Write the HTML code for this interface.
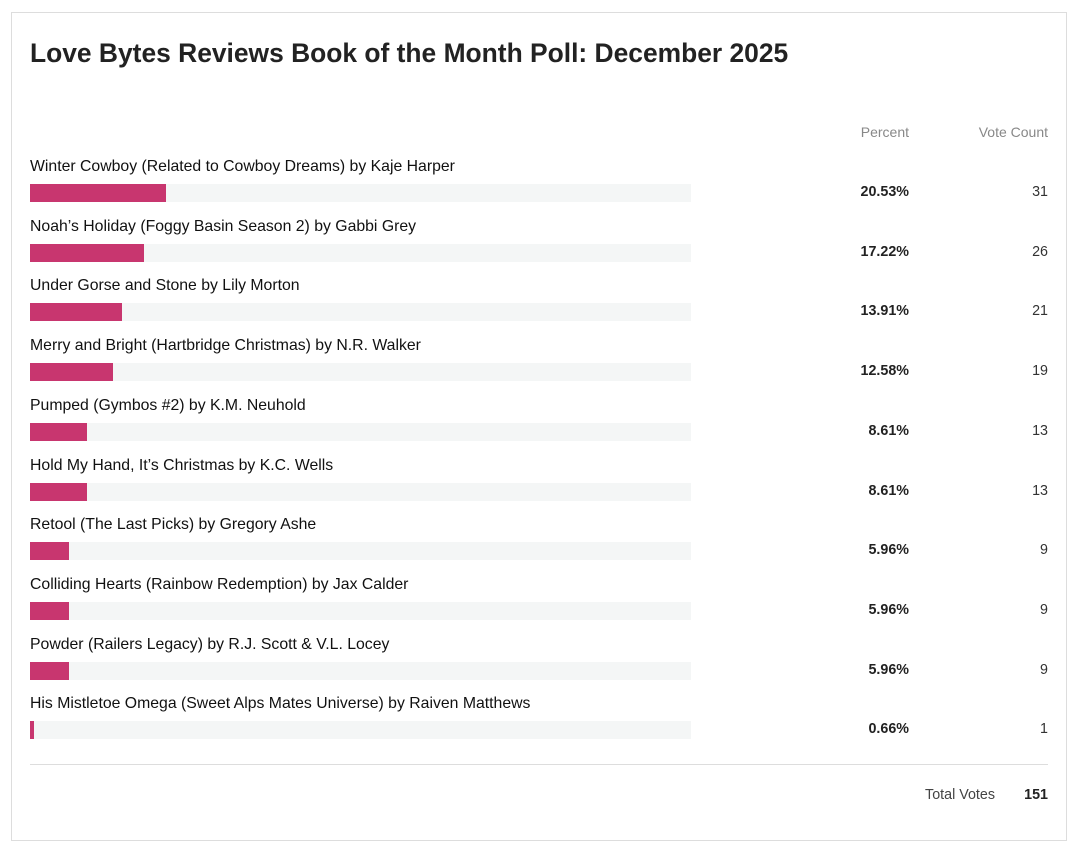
<!DOCTYPE html>
<html><head><meta charset="utf-8"><style>
body{margin:0;background:#fff;font-family:"Liberation Sans",sans-serif;}
.box{position:absolute;left:11px;top:12px;width:1054px;height:827px;border:1px solid #ddd;}
.t{position:absolute;left:30px;top:38px;font-size:26.4px;font-weight:bold;color:#222;}
.h{position:absolute;top:124px;font-size:14px;color:#888;}
.l{position:absolute;left:30px;font-size:15.8px;color:#111;}
.tr{position:absolute;left:30px;width:661px;height:18px;background:#f4f6f6;}
.b{height:18px;background:#c8366f;}
.p{position:absolute;right:170px;font-size:14.3px;font-weight:bold;color:#222;}
.c{position:absolute;right:31px;font-size:14.3px;color:#333;}
</style></head><body>
<div class="box"></div>
<div class="t">Love Bytes Reviews Book of the Month Poll: December 2025</div>
<div class="h" style="right:170px">Percent</div>
<div class="h" style="right:31px">Vote Count</div>
<div id="rows"></div>
<div style="position:absolute;left:30px;top:764px;width:1018px;height:1px;background:#ddd"></div>
<div style="position:absolute;right:84px;top:787px;font-size:14.3px;color:#444">Total Votes</div>
<div style="position:absolute;right:31px;top:787px;font-size:14.3px;font-weight:bold;color:#222">151</div>
<script>
var d=[["Winter Cowboy (Related to Cowboy Dreams) by Kaje Harper",20.53,31],
["Noah’s Holiday (Foggy Basin Season 2) by Gabbi Grey",17.22,26],
["Under Gorse and Stone by Lily Morton",13.91,21],
["Merry and Bright (Hartbridge Christmas) by N.R. Walker",12.58,19],
["Pumped (Gymbos #2) by K.M. Neuhold",8.61,13],
["Hold My Hand, It’s Christmas by K.C. Wells",8.61,13],
["Retool (The Last Picks) by Gregory Ashe",5.96,9],
["Colliding Hearts (Rainbow Redemption) by Jax Calder",5.96,9],
["Powder (Railers Legacy) by R.J. Scott &amp; V.L. Locey",5.96,9],
["His Mistletoe Omega (Sweet Alps Mates Universe) by Raiven Matthews",0.66,1]];
var h="";d.forEach(function(r,i){var y=184+i*59.7;
h+='<div class="l" style="top:'+(y-26)+'px">'+r[0]+'</div>';
h+='<div class="tr" style="top:'+y+'px"><div class="b" style="width:'+Math.max(4,r[1]*6.61)+'px"></div></div>';
h+='<div class="p" style="top:'+(y)+'px">'+r[1].toFixed(2)+'%</div>';
h+='<div class="c" style="top:'+(y)+'px">'+r[2]+'</div>';});
document.getElementById("rows").innerHTML=h;
</script>
</body></html>
